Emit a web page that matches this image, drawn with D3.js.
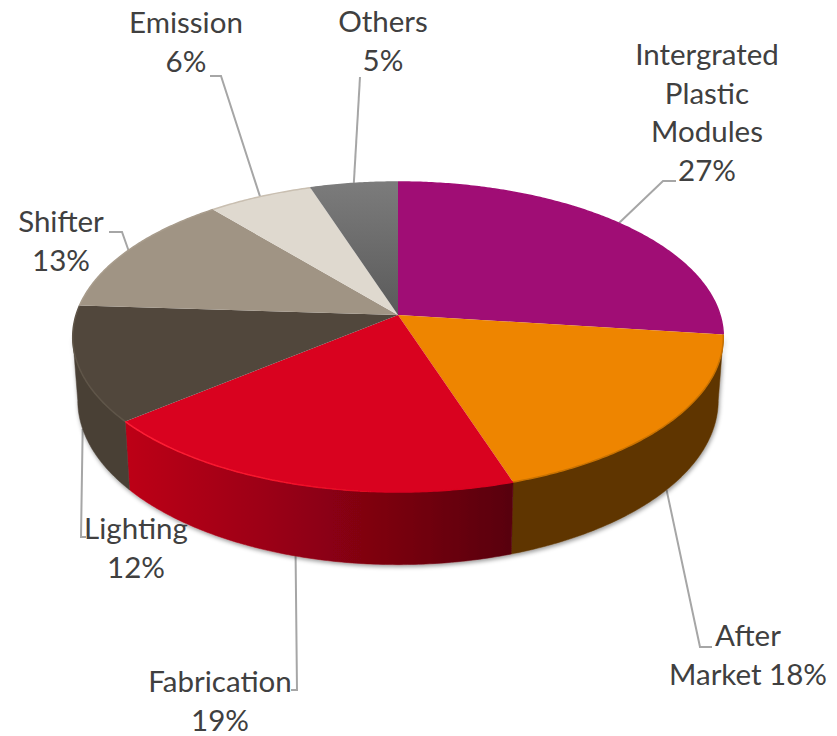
<!DOCTYPE html>
<html>
<head>
<meta charset="utf-8">
<script src="https://cdn.jsdelivr.net/npm/d3@7"></script>
<style>
  html, body { margin: 0; background: #fff; }
  text { font-family: Lato, "Open Sans", sans-serif; font-size: 29.5px; fill: #404040; text-anchor: middle; }
</style>
</head>
<body>
<div id="chart"></div>
<script>
const categories = ['Intergrated Plastic Modules', 'After Market', 'Fabrication', 'Lighting', 'Shifter', 'Emission', 'Others']
const shares = [27, 18, 19, 12, 13, 6, 5]

const topColors = ['#a00d75', '#ee8500', '#d9021f', '#51473c', '#a09484', '#dfd9cf', 'url(#greyTop)']
const sideColors = ['#5a0a44', '#5e3600', 'url(#redSide)', '#4a4036', '#5c5347', '#807b72', '#444444']
const rimColors = ['#a00d75', '#c97200', 'url(#redRim)', '#5f5548', '#a89c8c', '#c9bfb1', '#7b7b7b']

// labels: lines of text, baseline of the first line, and the elbow of the leader
const labels = [
  { lines: ['Intergrated', 'Plastic', 'Modules', '27%'], x: 707, y: 65, leader: [[663, 181], [676, 181]], rim: 'top' },
  { lines: ['After', 'Market 18%'], x: 748, y: 646, leader: [[700, 647], [712, 647]], rim: 'bottom' },
  { lines: ['Fabrication', '19%'], x: 220, y: 692, leader: [[297, 690], [291, 690]], rim: 'bottom' },
  { lines: ['Lighting', '12%'], x: 136, y: 539, leader: [[81, 537], [86, 537]], rim: 'bottom' },
  { lines: ['Shifter', '13%'], x: 61, y: 232, leader: [[122, 232], [109, 232]], rim: 'top' },
  { lines: ['Emission', '6%'], x: 186, y: 33, leader: [[221, 76], [210, 76]], rim: 'top' },
  { lines: ['Others', '5%'], x: 383, y: 32, leader: [[360, 77]], rim: 'top' },
]

const width = 837, height = 736
const lineGap = 38.7

// the disc is tilted, so the near half looks bigger: a small perspective term
const persp = 0.142
const rimTop = { cx: 398, cy: 315, rx: 322, ry: 151.9 }
const rimBottom = { cx: 398, cy: 377, rx: 317, ry: 161 }

function project(angle, rim) {
  const u = Math.sin(angle), v = Math.cos(angle)
  const d = 1 + persp * v
  return [rim.cx + rim.rx * u / d, rim.cy - rim.ry * v / d]
}

function samples(a0, a1, rim) {
  const n = Math.max(2, Math.ceil((a1 - a0) / 0.01))
  return d3.range(n + 1).map(i => project(a0 + (a1 - a0) * i / n, rim))
}

const line = d3.line()

const arcs = d3.pie().sort(null).value(d => d)(shares)

const svg = d3.select('#chart')
  .append('svg')
  .attr('width', width)
  .attr('height', height)

const defs = svg.append('defs')

function gradient(id, x1, y1, x2, y2, stops) {
  const g = defs.append('linearGradient')
    .attr('id', id)
    .attr('gradientUnits', 'userSpaceOnUse')
    .attr('x1', x1).attr('y1', y1)
    .attr('x2', x2).attr('y2', y2)
  stops.forEach(s => {
    g.append('stop')
      .attr('offset', s[0])
      .attr('stop-color', s[1])
  })
}

gradient('redSide', 130, 0, 512, 0, [[0, '#bc0019'], [0.35, '#9c0014'], [0.7, '#780010'], [1, '#58000a']])
gradient('greyTop', 0, 184, 0, 315, [[0, '#7b7b7b'], [1, '#5a5a5a']])
gradient('redRim', 127, 0, 400, 0, [[0, '#ff1f35'], [0.55, '#f5142b'], [1, '#d9021f']])

const shadow = defs.append('filter').attr('id', 'shadow')
  .attr('x', '-5%').attr('y', '-5%').attr('width', '110%').attr('height', '115%')
shadow.append('feDropShadow')
  .attr('dx', 1).attr('dy', 2)
  .attr('stdDeviation', 2)
  .attr('flood-color', '#000')
  .attr('flood-opacity', 0.4)

const soft = defs.append('filter').attr('id', 'soft')
soft.append('feGaussianBlur').attr('stdDeviation', 0.6)

// leaders go first, the disc covers their ends
svg.append('g')
  .attr('fill', 'none')
  .attr('stroke', '#a6a6a6')
  .attr('stroke-width', 2)
  .selectAll('path')
  .data(labels)
  .join('path')
  .attr('d', (d, i) => {
    const mid = (arcs[i].startAngle + arcs[i].endAngle) / 2
    const anchor = project(mid, d.rim === 'top' ? rimTop : rimBottom)
    return line([anchor, ...d.leader])
  })

// side wall: between the two points where the rim turns away from the viewer
const turn = Math.acos(-persp)
const sideSlices = arcs
  .map((d, i) => ({
    i,
    a0: Math.max(d.startAngle, turn),
    a1: Math.min(d.endAngle, 2 * Math.PI - turn),
  }))
  .filter(d => d.a1 > d.a0)

svg.append('g')
  .attr('filter', 'url(#shadow)')
  .selectAll('path')
  .data(sideSlices)
  .join('path')
  .attr('fill', d => sideColors[d.i])
  .attr('stroke', d => sideColors[d.i])
  .attr('stroke-width', 0.5)
  .attr('d', d => line([...samples(d.a0, d.a1, rimTop), ...samples(d.a0, d.a1, rimBottom).reverse()]) + 'Z')

// top face
svg.append('g')
  .selectAll('path')
  .data(arcs)
  .join('path')
  .attr('fill', (d, i) => topColors[i])
  .attr('d', d => line([[rimTop.cx, rimTop.cy], ...samples(d.startAngle, d.endAngle, rimTop)]) + 'Z')

// bevel along the edge of the top face
svg.append('g')
  .attr('fill', 'none')
  .selectAll('path')
  .data(arcs)
  .join('path')
  .attr('stroke', (d, i) => rimColors[i])
  .attr('stroke-width', 1.5)
  .attr('filter', 'url(#soft)')
  .attr('d', d => line(samples(d.startAngle, d.endAngle, rimTop)))

const labelGroups = svg.append('g')
  .selectAll('text')
  .data(labels)
  .join('text')
  .attr('x', d => d.x)
  .attr('y', d => d.y)

labelGroups.selectAll('tspan')
  .data(d => d.lines.map((t, i) => ({ t, i, x: d.x, y: d.y })))
  .join('tspan')
  .attr('x', d => d.x)
  .attr('y', d => d.y + d.i * lineGap)
  .text(d => d.t)
</script>
</body>
</html>
